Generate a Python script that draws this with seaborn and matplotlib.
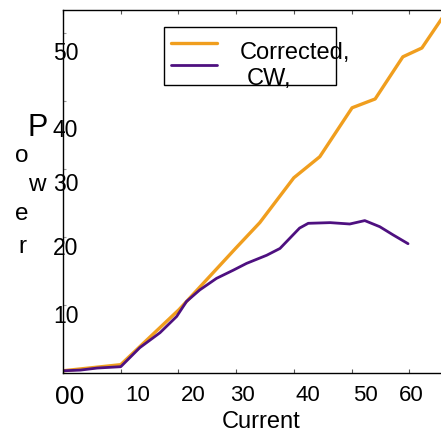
import matplotlib
matplotlib.use('Agg')
import matplotlib.pyplot as plt
import seaborn as sns
import pandas as pd
from matplotlib.transforms import ScaledTranslation

# ---- data ----
corrected_x = [0, 10.0, 20.1, 30.0, 34.1, 40.0, 44.5, 50.1, 54.1, 58.9, 62.2, 66.5]
corrected_y = [0.3, 1.2, 9.3, 18.4, 22.1, 28.7, 31.8, 39.0, 40.3, 46.5, 47.8, 53.2]

cw_x = [0, 3.0, 5.9, 10.0, 13.3, 16.8, 19.7, 21.4, 23.7, 26.6, 29.5, 31.8, 35.3,
        37.6, 39.3, 41.0, 42.5, 46.3, 49.7, 52.3, 54.9, 57.2, 59.8]
cw_y = [0.3, 0.4, 0.7, 0.9, 3.7, 5.9, 8.3, 10.5, 12.2, 13.9, 15.1, 16.1, 17.3,
        18.3, 19.8, 21.3, 22.0, 22.1, 21.9, 22.4, 21.5, 20.3, 19.0]

series_names = ["Corrected,", "CW,"]
x_ticks = [0, 10, 20, 30, 40, 50, 60]
x_tick_labels = ["00", "10", "20", "30", "40", "50", "60"]
y_ticks = [10, 20, 30, 40, 50]
y_tick_labels = ["10", "20", "30", "40", "50"]
colors = {"Corrected,": "#F09E1E", "CW,": "#4E1080"}

df = pd.concat([
    pd.DataFrame({"Current": corrected_x, "Power": corrected_y, "Series": series_names[0]}),
    pd.DataFrame({"Current": cw_x, "Power": cw_y, "Series": series_names[1]}),
], ignore_index=True)

sns.set_theme(style="white")
plt.rcParams['font.family'] = ['Liberation Sans', 'DejaVu Sans']
plt.rcParams['text.color'] = 'black'
plt.rcParams['axes.labelcolor'] = 'black'
plt.rcParams['xtick.labelcolor'] = 'black'
plt.rcParams['ytick.labelcolor'] = 'black'

fig = plt.figure(figsize=(4.41, 4.32), dpi=100)
ax = fig.add_axes([0.143, 0.137, 0.9, 0.840])

sns.lineplot(data=df[df.Series == series_names[0]], x="Current", y="Power",
             color=colors[series_names[0]], linewidth=2.4, estimator=None, sort=False,
             ax=ax, label=series_names[0])
sns.lineplot(data=df[df.Series == series_names[1]], x="Current", y="Power",
             color=colors[series_names[1]], linewidth=2.0, estimator=None, sort=False,
             ax=ax, label=series_names[1])

ax.set_xlim(0, 68.8)
ax.set_ylim(0, 53.4)

for s in ax.spines.values():
    s.set_color('black')
    s.set_linewidth(1.0)

ax.set_xticks(x_ticks)
ax.set_xticklabels(x_tick_labels, ha='left')
ax.set_yticks(y_ticks)
ax.set_yticklabels(y_tick_labels, va='top')
ax.tick_params(axis='x', which='both', direction='in', length=3, width=0.8,
               colors='#555555', labelcolor='black', labelsize=16, pad=9,
               top=True, bottom=True)
ax.tick_params(axis='y', which='both', direction='in', length=2, width=0.8,
               colors='#999999', labelcolor='black', labelsize=16.5, pad=-11,
               left=True, right=True)
ax.get_xticklabels()[0].set_fontsize(19)

# small per-label nudges (pixels) to mimic the reference's placement
x_nudges = [(-8, 0), (4, 0), (2, 0), (-6, 0), (2, 0), (2, 0), (-10, 0)]
for lab, (dx, dy) in zip(ax.get_xticklabels(), x_nudges):
    lab.set_transform(lab.get_transform() + ScaledTranslation(dx / 100, dy / 100, fig.dpi_scale_trans))
y_nudges = [(0, 0), (0, 0), (0, -4), (0, -18), (0, -9)]
for lab, (dx, dy) in zip(ax.get_yticklabels(), y_nudges):
    lab.set_transform(lab.get_transform() + ScaledTranslation(dx / 100, dy / 100, fig.dpi_scale_trans))

ax.set_xlabel("Current", fontsize=17, labelpad=1)
ax.set_ylabel("")

# vertical stacked "Power" label
letters = [("P", 28, 128, 22), ("o", 15, 156, 17.5), ("w", 28, 185, 17.5),
           ("e", 15, 214, 17.5), ("r", 18, 247, 17.5)]
for ch, px, py, fs in letters:
    fig.text(px / 441, 1 - py / 432, ch, fontsize=fs, ha='left', va='center')

leg = ax.legend(loc='upper left', bbox_to_anchor=(0.254, 0.953), borderaxespad=0,
                fontsize=17, frameon=True, fancybox=False, shadow=False,
                handlelength=1.95, handletextpad=0.05, labelspacing=0.0,
                borderpad=0.3)
leg.get_frame().set_edgecolor('black')
leg.get_frame().set_linewidth(1.0)
leg.get_frame().set_alpha(1)
offsets = [(22, -8), (29, -12)]
for t, (dx, dy) in zip(leg.get_texts(), offsets):
    t.set_transform(t.get_transform() + ScaledTranslation(dx / 100, dy / 100, fig.dpi_scale_trans))

fig.savefig("out.png", dpi=100)
